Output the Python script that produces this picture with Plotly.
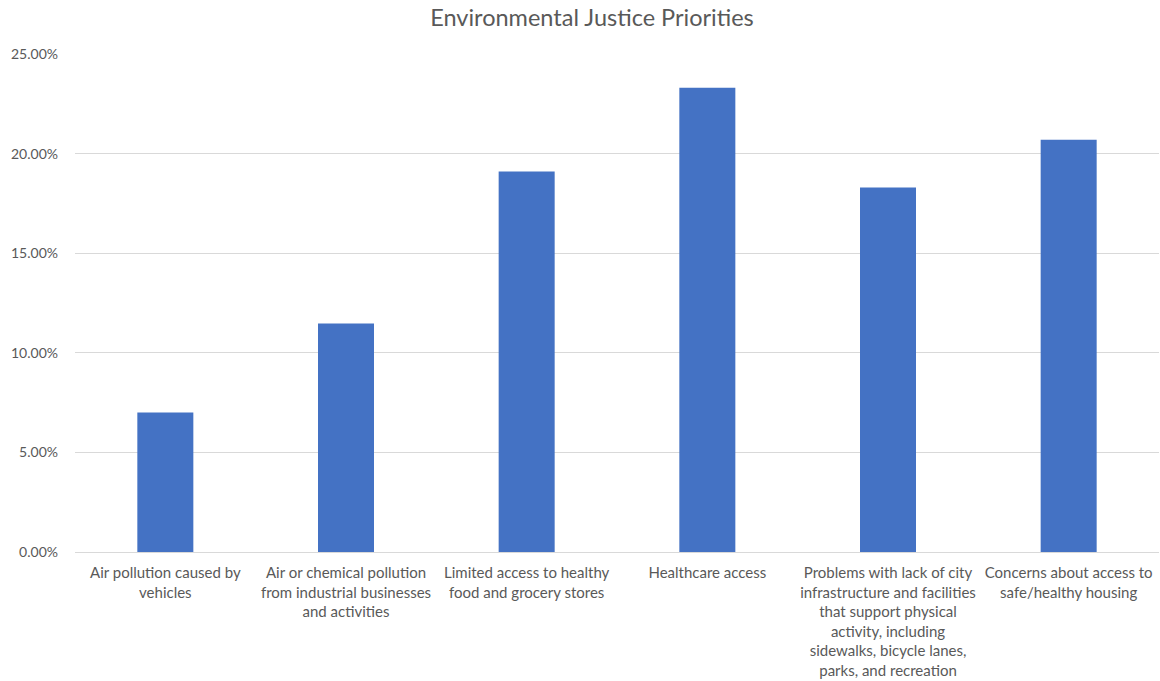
import plotly.graph_objects as go

categories = [
    "Air pollution caused by<br>vehicles",
    "Air or chemical pollution<br>from industrial businesses<br>and activities",
    "Limited access to healthy<br>food and grocery stores",
    "Healthcare access",
    "Problems with lack of city<br>infrastructure and facilities<br>that support physical<br>activity, including<br>sidewalks, bicycle lanes,<br>parks, and recreation",
    "Concerns about access to<br>safe/healthy housing",
]
values = [0.070, 0.1147, 0.191, 0.233, 0.183, 0.207]
y_ticks = [0, 0.05, 0.10, 0.15, 0.20, 0.25]

fig = go.Figure(go.Bar(x=categories, y=values, marker=dict(color="#4472C4", line=dict(width=0))))

fig.update_layout(
    width=1160, height=681,
    margin=dict(l=75, r=1, t=54, b=129),
    paper_bgcolor="white", plot_bgcolor="white",
    font=dict(family="Lato, Open Sans, sans-serif", color="#595959"),
    title=dict(text="Environmental Justice Priorities", x=592 / 1160, xanchor="center",
               y=1 - 18 / 681, yanchor="middle",
               font=dict(size=23.5, color="#595959")),
    bargap=0.69,
    showlegend=False,
)
fig.update_yaxes(range=[0, 0.25], tickvals=y_ticks, tickformat=".2%",
                 showgrid=True, gridcolor="#d9d9d9", gridwidth=1,
                 zeroline=False, showline=False, ticks="",
                 tickfont=dict(size=14, color="#595959"), ticklabelstandoff=16)
fig.update_xaxes(showline=True, linecolor="#d9d9d9", linewidth=1, ticks="",
                 tickfont=dict(size=15, color="#595959"), tickangle=0,
                 ticklabelstandoff=7)

fig.write_html("out.html", config={"displayModeBar": False},
               post_script="document.body.style.margin='0';document.body.style.overflow='hidden';")
